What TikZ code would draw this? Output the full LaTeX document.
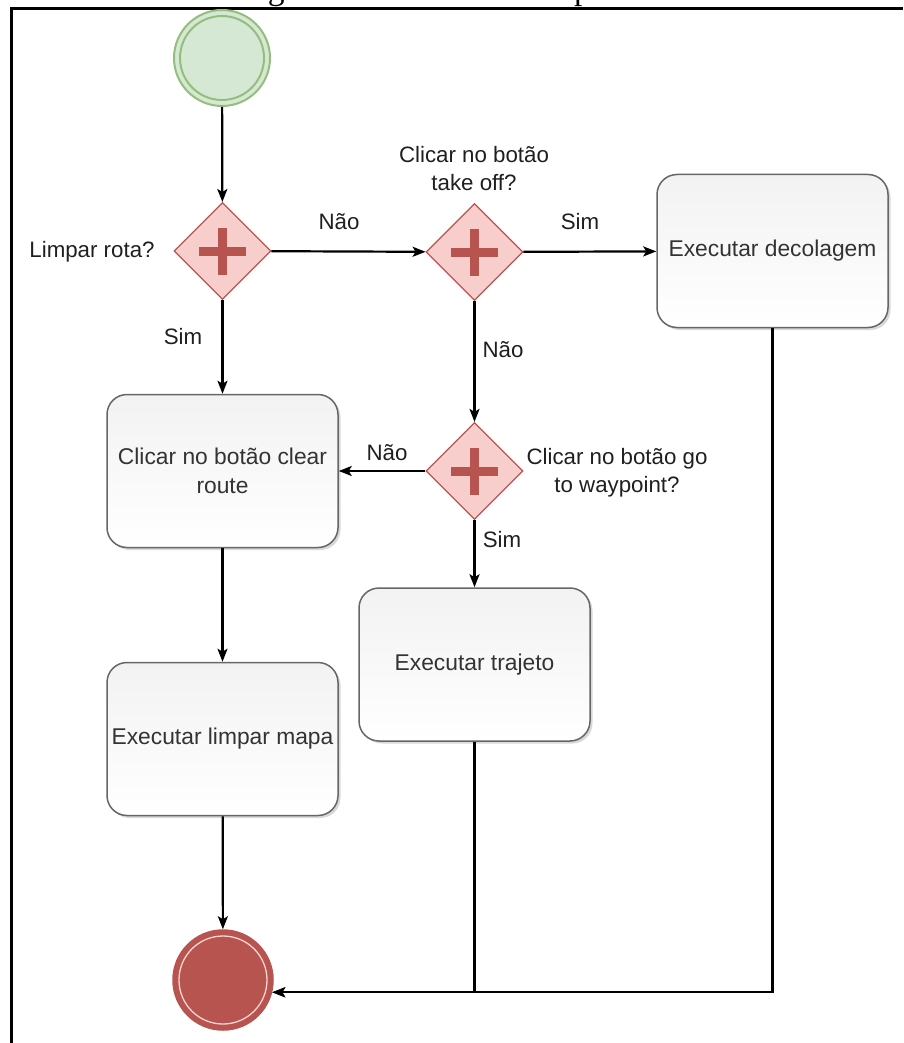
\documentclass[tikz,border=0pt]{standalone}
\usepackage{fontspec}
\setmainfont{Liberation Sans}
\newfontfamily\capfont{Liberation Serif}
\usetikzlibrary{arrows.meta,shapes.geometric,shadows,calc}
\definecolor{gfill}{HTML}{D5E8D4}
\definecolor{gline}{HTML}{82B366}
\definecolor{rfill}{HTML}{F8CECC}
\definecolor{rline}{HTML}{B85450}
\definecolor{bline}{HTML}{666666}
\definecolor{btop}{HTML}{F2F2F2}
\definecolor{btext}{HTML}{333333}
\begin{document}
\begin{tikzpicture}[x=1pt,y=-1pt,
  task/.style={rectangle, rounded corners=20pt, draw=bline, line width=1.5pt,
    top color=btop, bottom color=white, minimum width=231pt, minimum height=153pt,
    inner sep=0pt, text=btext, font=\fontsize{22.8}{28.5}\selectfont, align=center,
    drop shadow={shadow xshift=2.5pt, shadow yshift=-2.5pt, opacity=0.25, fill=black!60}},
  gate/.style={diamond, aspect=1, minimum width=97pt, minimum height=97pt, inner sep=0pt,
    fill=rfill, draw=rline, line width=1.2pt,
    path picture={
      \fill[rline] ($(path picture bounding box.center)+(-23.5pt,-4.5pt)$) rectangle ++(47pt,9pt);
      \fill[rline] ($(path picture bounding box.center)+(-4.5pt,-23.5pt)$) rectangle ++(9pt,47pt);
    }},
  lbl/.style={font=\fontsize{22.3}{28}\selectfont, text=black!88, align=center, inner sep=0pt},
  flow/.style={line width=2.2pt, -{Stealth[length=13pt,width=10pt,inset=3pt]}},
]
\useasboundingbox (0,0) rectangle (903,1043);

% caption (cut off at the top, as in the reference)
\node[anchor=base west, inner sep=0pt, font=\capfont\fontsize{33.5}{40}\selectfont] (cap) at (239.7,-0.5) {Figura 10 – Fluxo de limpar rota};
% frame
\draw[line width=3pt] (11,1043) -- (11,9) -- (903,9);

% start event
\node[circle, minimum size=96pt, inner sep=0pt, fill=gfill, draw=gline!85!white, line width=2pt] (start) at (222,58) {};
\draw[gline!85!white, line width=2pt] (start.center) circle (42pt);

% gateways
\node[gate] (g1) at (222.5,251) {};
\node[gate] (g2) at (474.5,252) {};
\node[gate] (g3) at (474.5,471) {};

% tasks
\node[task] (deco) at (772.5,251) {Executar decolagem};
\node[task] (clear) at (222.5,471) {Clicar no botão clear\\route};
\node[task] (traj) at (474.5,664.5) {Executar trajeto};
\node[task] (limpar) at (222.5,739) {Executar limpar mapa};

% end event
\node[circle, minimum size=100pt, inner sep=0pt, fill=rline, draw=rline, line width=1.5pt] (end) at (223,980) {};
\draw[rfill!85!white, line width=1.3pt] (end.center) circle (44pt);

% connectors
\draw[flow] (start) -- (g1);
\draw[flow] (g1) -- (g2);
\draw[flow] (g2) -- (deco);
\draw[flow] (g1) -- (clear);
\draw[flow] (g2) -- (g3);
\draw[flow] (g3) -- (clear);
\draw[flow] (g3) -- (traj);
\draw[flow] (clear) -- (limpar);
\draw[flow] (limpar) -- (end);
\draw[flow] (traj.south) |- (end.-14);
\draw[flow] (deco.south) |- (end.-14);

% labels
\node[lbl] (lq1) at (92,252) {Limpar rota?};
\node[lbl] (lq2) at (474,169) {Clicar no botão\\take off?};
\node[lbl] (lq3) at (617,473) {Clicar no botão go\\to waypoint?};
\node[lbl] (n1) at (339,222) {Não};
\node[lbl] (s1) at (580,222) {Sim};
\node[lbl] (s2) at (183,337) {Sim};
\node[lbl] (n2) at (503,350) {Não};
\node[lbl] (n3) at (387,453) {Não};
\node[lbl] (s3) at (502,540) {Sim};
\end{tikzpicture}
\end{document}
